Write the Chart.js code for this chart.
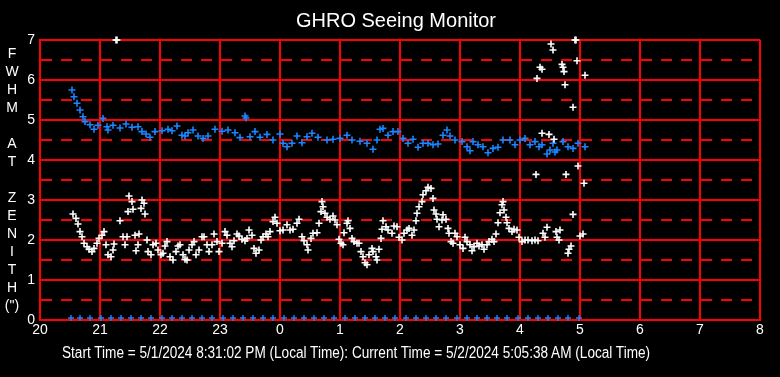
<!DOCTYPE html>
<html>
<head>
<meta charset="utf-8">
<script src="https://cdn.jsdelivr.net/npm/chart.js@4.4.1/dist/chart.umd.min.js"></script>
<style>
  html, body { margin: 0; padding: 0; background: #000; }
  #wrap { position: relative; width: 780px; height: 377px; background: #000; overflow: hidden; }
  #seeingChart { position: absolute; left: 0; top: 0; }
  .txt { position: absolute; color: #fff; white-space: pre; }
  #title { left: 0; width: 792px; top: 9px; text-align: center; font: 20px "Liberation Sans", Arial, sans-serif; }
  #yTitle { left: 0; width: 24px; top: 44px; text-align: center; font: 14px "Liberation Sans", Arial, sans-serif; line-height: 18px; }
  #footer { left: 62px; top: 344px; font: 16px "Liberation Sans", Arial, sans-serif; transform: scaleX(0.85); transform-origin: 0 0; }
</style>
</head>
<body>
<div id="wrap">
  <canvas id="seeingChart" width="780" height="377"></canvas>
  <div class="txt" id="title">GHRO Seeing Monitor</div>
  <div class="txt" id="yTitle">F
W
H
M

A
T

Z
E
N
I
T
H
(")</div>
  <div class="txt" id="footer">Start Time = 5/1/2024 8:31:02 PM (Local Time): Current Time = 5/2/2024 5:05:38 AM (Local Time)</div>
</div>
<script>
// x values are minutes after 20:00 local time, y values are FWHM (arcsec)
const X_MIN_HOUR = 20;
const X_MAX_HOUR = 32;
const Y_MAX = 7;

const zenithMinutes = [
  32, 34, 37, 40, 43, 45, 50, 54, 58, 63, 67, 68, 73, 80, 86, 92, 98, 102, 106, 110,
  115, 122, 128, 132, 137, 142, 145, 148, 153, 158, 163, 168, 175, 182, 188, 195, 200, 205, 206, 210,
  215, 220, 227, 233, 240, 243, 247, 252, 257, 262, 267, 272, 278, 287, 293, 300, 307, 312, 320, 327,
  333, 337, 340, 343, 348, 353, 358, 363, 368, 373, 378, 383, 388, 393, 398, 403, 407, 410, 415, 422,
  427, 430, 433, 438, 443, 448, 453, 458, 463, 470, 475, 480, 485, 490, 495, 499, 502, 507, 510, 513,
  515, 517, 523, 528, 533, 538, 545,
];
const zenithFwhm = [
  5.75, 5.58, 5.42, 5.25, 5.08, 4.96, 4.88, 4.77, 4.87, 5.04, 4.83, 4.75, 4.87, 4.8, 4.9, 4.82, 4.83, 4.71, 4.65, 4.57,
  4.71, 4.73, 4.77, 4.73, 4.85, 4.62, 4.6, 4.68, 4.75, 4.6, 4.54, 4.6, 4.77, 4.72, 4.75, 4.68, 4.56, 5.1, 5.05, 4.58,
  4.71, 4.57, 4.64, 4.5, 4.65, 4.42, 4.33, 4.42, 4.6, 4.43, 4.58, 4.67, 4.57, 4.5, 4.52, 4.54, 4.62, 4.5, 4.47, 4.42,
  4.27, 4.5, 4.77, 4.79, 4.62, 4.71, 4.71, 4.54, 4.42, 4.52, 4.32, 4.42, 4.42, 4.38, 4.4, 4.62, 4.75, 4.6, 4.5, 4.46,
  4.33, 4.23, 4.46, 4.38, 4.33, 4.18, 4.29, 4.32, 4.5, 4.5, 4.38, 4.5, 4.54, 4.38, 4.46, 4.33, 4.38, 4.15, 4.25, 4.42,
  4.2, 4.25, 4.46, 4.33, 4.29, 4.42, 4.33,
];

const rawMinutes = [
  33, 36, 38, 40, 42, 44, 47, 49, 52, 54, 57, 59, 62, 64, 66, 68, 71, 73, 74, 76,
  77, 80, 83, 85, 87, 88, 89, 92, 93, 95, 96, 98, 99, 101, 102, 104, 105, 107, 108, 111,
  113, 116, 118, 121, 123, 125, 127, 130, 133, 136, 138, 140, 143, 145, 147, 149, 152, 154, 156, 159,
  162, 164, 167, 169, 172, 174, 177, 179, 182, 185, 187, 190, 192, 194, 197, 199, 202, 205, 207, 209,
  212, 214, 216, 219, 221, 223, 226, 228, 230, 233, 235, 237, 240, 243, 247, 250, 253, 257, 259, 262,
  264, 267, 268, 271, 273, 277, 279, 281, 282, 283, 285, 287, 290, 293, 295, 297, 299, 301, 303, 304,
  307, 308, 310, 312, 314, 317, 319, 321, 323, 325, 327, 329, 332, 333, 336, 337, 339, 341, 342, 343,
  346, 348, 352, 354, 357, 359, 362, 364, 367, 369, 372, 374, 376, 377, 379, 382, 383, 386, 388, 391,
  393, 394, 396, 397, 399, 402, 403, 406, 408, 409, 411, 413, 415, 417, 420, 423, 425, 427, 430, 432,
  434, 437, 439, 442, 444, 447, 449, 452, 454, 456, 458, 460, 462, 463, 464, 466, 467, 469, 472, 474,
  477, 479, 482, 485, 488, 492, 495, 496, 497, 498, 500, 502, 502, 503, 505, 507, 509, 511, 513, 514,
  516, 517, 519, 520, 522, 523, 524, 525, 526, 528, 529, 531, 533, 533, 535, 536, 537, 538, 540, 543,
  544, 545,
];
const rawFwhm = [
  2.65, 2.54, 2.4, 2.21, 2.08, 1.92, 1.83, 1.77, 1.71, 1.79, 1.92, 2.04, 2.12, 2.21, 1.88, 1.63, 1.58, 1.75, 1.9, 7.0,
  7.0, 2.48, 2.08, 1.88, 2.08, 2.71, 3.1, 2.96, 2.77, 2.12, 1.73, 1.88, 2.15, 2.79, 3.0, 2.92, 2.65, 2.0, 1.71, 1.63,
  1.88, 1.92, 1.75, 1.63, 1.67, 1.85, 1.96, 1.58, 1.5, 1.71, 1.85, 1.88, 1.63, 1.52, 1.5, 1.75, 1.88, 1.96, 1.63, 1.75,
  2.08, 2.08, 1.88, 1.71, 1.88, 2.15, 1.96, 1.71, 1.92, 2.21, 2.12, 1.92, 1.83, 1.98, 2.15, 2.1, 2.02, 1.98, 2.04, 2.25,
  2.12, 1.79, 1.67, 1.75, 2.0, 2.08, 2.15, 2.08, 2.21, 2.46, 2.57, 2.42, 2.23, 2.25, 2.38, 2.25, 2.27, 2.42, 2.52, 2.08,
  1.98, 1.88, 1.75, 2.04, 2.17, 2.18, 2.42, 2.71, 2.96, 2.83, 2.67, 2.57, 2.52, 2.6, 2.5, 2.38, 2.02, 1.92, 1.88, 2.18,
  2.42, 2.48, 2.29, 2.04, 1.96, 1.92, 1.92, 1.71, 1.58, 1.43, 1.38, 1.63, 1.79, 1.71, 1.58, 1.5, 1.77, 2.04, 2.27, 2.48,
  2.33, 2.25, 2.17, 2.35, 2.33, 2.07, 2.0, 2.17, 2.25, 2.29, 2.12, 2.25, 2.48, 2.67, 2.83, 2.96, 3.13, 3.23, 3.32, 3.29,
  3.04, 2.75, 2.65, 2.52, 2.33, 2.5, 2.63, 2.52, 2.29, 2.17, 1.96, 1.92, 2.17, 2.08, 1.88, 1.79, 2.07, 1.96, 1.88, 1.73,
  1.83, 1.92, 1.85, 1.88, 1.77, 1.88, 1.96, 2.02, 1.96, 2.15, 2.43, 2.68, 2.88, 2.96, 2.75, 2.57, 2.43, 2.29, 2.21, 2.27,
  2.25, 2.07, 1.96, 2.0, 2.0, 1.98, 2.0, 3.64, 6.04, 1.98, 6.32, 6.27, 4.67, 2.17, 2.07, 2.32, 4.64, 6.9, 6.75, 4.52,
  2.21, 2.07, 2.0, 2.25, 6.39, 6.32, 6.21, 5.88, 3.64, 1.67, 1.77, 1.85, 5.32, 2.64, 7.0, 7.0, 6.48, 3.85, 2.1, 2.15,
  3.42, 6.12,
];

// blue markers sitting on the zero line, one per sample block
const sampleMinutes = [
  31, 40, 50, 61, 71, 81, 91, 101, 111, 122, 132, 142, 152, 162, 172, 183, 193, 203, 213, 223,
  233, 244, 254, 264, 274, 284, 294, 305, 315, 325, 335, 345, 355, 366, 376, 386, 396, 406, 417, 427,
  437, 447, 457, 467, 478, 488, 498, 508, 518, 528, 539,
];
const sampleLevel = sampleMinutes.map(() => 0.05);

const hourTicks = ["20", "21", "22", "23", "0", "1", "2", "3", "4", "5", "6", "7", "8"];

function toPoints(minutes, values) {
  return minutes.map((m, i) => ({ x: X_MIN_HOUR + m / 60, y: values[i] }));
}

const BLUE = "#1a86ff";
const tickFont = {
  family: "'Liberation Sans', Arial, sans-serif",
  size: 14,
};

const markerStyle = {
  pointStyle: "cross",
  pointRadius: 3.5,
  pointBorderWidth: 1.6,
  showLine: false,
  clip: false,
};

new Chart(document.getElementById("seeingChart"), {
  type: "scatter",
  data: {
    datasets: [
      {
        label: "Raw",
        data: toPoints(rawMinutes, rawFwhm),
        borderColor: "#ffffff",
        backgroundColor: "#ffffff",
        ...markerStyle,
      },
      {
        label: "Zenith",
        data: toPoints(zenithMinutes, zenithFwhm),
        borderColor: BLUE,
        backgroundColor: BLUE,
        ...markerStyle,
      },
      {
        label: "Samples",
        data: toPoints(sampleMinutes, sampleLevel),
        borderColor: BLUE,
        backgroundColor: BLUE,
        ...markerStyle,
        pointRadius: 3,
        pointBorderWidth: 1.4,
      },
    ],
  },
  options: {
    responsive: false,
    animation: false,
    layout: {
      padding: { top: 40, right: 20, bottom: 37, left: 0 },
    },
    plugins: {
      legend: { display: false },
      title: { display: false },
      tooltip: { enabled: false },
    },
    scales: {
      x: {
        type: "linear",
        min: X_MIN_HOUR,
        max: X_MAX_HOUR,
        afterFit(scale) {
          scale.height = 20;
        },
        afterBuildTicks(scale) {
          scale.ticks = hourTicks.map((_, i) => ({ value: X_MIN_HOUR + i }));
        },
        ticks: {
          color: "#ffffff",
          font: tickFont,
          padding: 2,
          maxRotation: 0,
          autoSkip: false,
          callback(value) {
            return hourTicks[Math.round(value - X_MIN_HOUR)];
          },
        },
        grid: { color: "#ff0000", lineWidth: 2, drawTicks: false },
        border: { color: "#ff0000", width: 2 },
      },
      y: {
        min: 0,
        max: Y_MAX,
        afterFit(scale) {
          scale.width = 40;
        },
        ticks: {
          stepSize: 0.5,
          autoSkip: false,
          color: "#ffffff",
          font: tickFont,
          padding: 5,
          callback(value) {
            return Number.isInteger(value) ? String(value) : "";
          },
        },
        grid: { color: "#ff0000", lineWidth: 2, drawTicks: false },
        border: {
          color: "#ff0000",
          width: 2,
          dash(ctx) {
            if (!ctx.tick) {
              return [];
            }
            return Number.isInteger(ctx.tick.value) ? [] : [11, 9];
          },
        },
      },
    },
  },
});
</script>
</body>
</html>
